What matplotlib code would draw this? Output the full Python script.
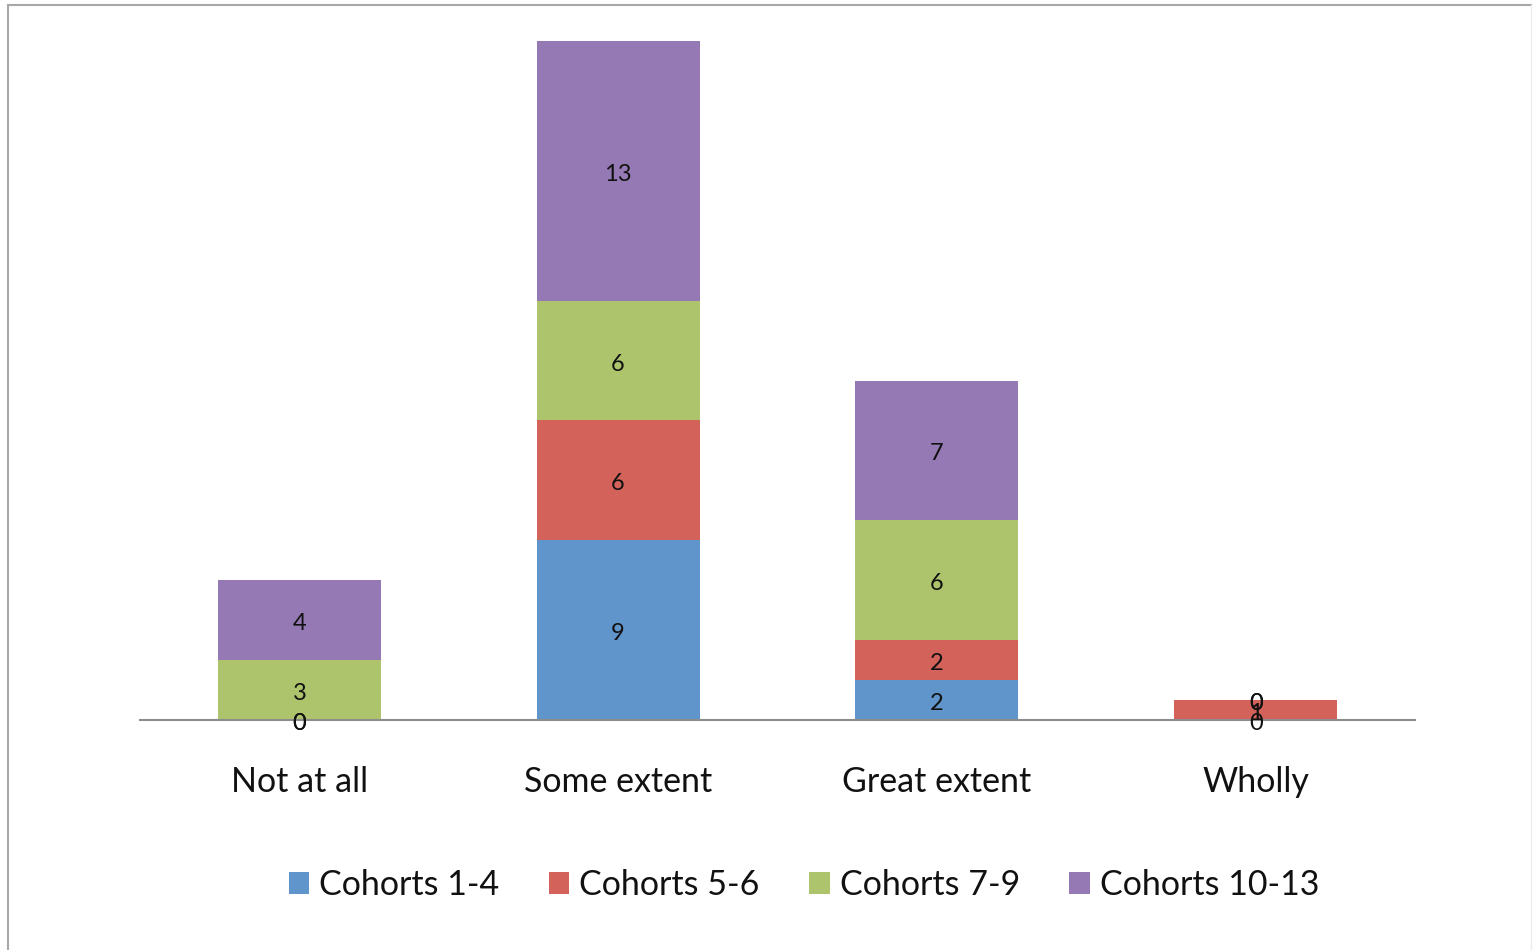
import matplotlib.pyplot as plt
from matplotlib.lines import Line2D
from matplotlib.patches import Patch
import numpy as np

categories = ["Not at all", "Some extent", "Great extent", "Wholly"]
series_names = ["Cohorts 1-4", "Cohorts 5-6", "Cohorts 7-9", "Cohorts 10-13"]
cohorts_1_4 = [0, 9, 2, 0]
cohorts_5_6 = [0, 6, 2, 1]
cohorts_7_9 = [3, 6, 6, 0]
cohorts_10_13 = [4, 13, 7, 0]
colors = ["#5f95cb", "#d2625a", "#aec46c", "#9579b4"]

plt.rcParams['font.family'] = ['Lato', 'DejaVu Sans']

W, H = 1534, 950
fig = plt.figure(figsize=(W / 100, H / 100), dpi=100)
fig.patch.set_facecolor("white")

# chart-area frame (top and left edges visible)
fig.add_artist(Line2D([8 / W, 8 / W], [0, 1 - 5 / H], transform=fig.transFigure,
                      color="#a8a8a8", lw=1.5))
fig.add_artist(Line2D([8 / W, 1531 / W], [1 - 5 / H, 1 - 5 / H], transform=fig.transFigure,
                      color="#a8a8a8", lw=1.5))
fig.add_artist(Line2D([1531 / W, 1531 / W], [0, 1 - 5 / H], transform=fig.transFigure,
                      color="#ececec", lw=1.0))

left, right, top, base = 140, 1415, 41, 720
ax = fig.add_axes([left / W, 1 - base / H, (right - left) / W, (base - top) / H])

series = [cohorts_1_4, cohorts_5_6, cohorts_7_9, cohorts_10_13]
x = np.arange(len(categories))
bottom = np.zeros(len(categories))
for vals, col, name in zip(series, colors, series_names):
    vals = np.array(vals, dtype=float)
    ax.bar(x, vals, width=0.512, bottom=bottom, color=col, label=name, zorder=2)
    for xi, b, v in zip(x, bottom, vals):
        ax.annotate(f"{int(v)}", xy=(xi, b + v / 2), xytext=(0, -2.5),
                    textcoords="offset points", ha="center", va="center",
                    fontsize=17, color="#111111", zorder=4)
    bottom += vals

ax.set_xlim(-0.5, 3.5)
ax.set_ylim(0, 34)
for s in ["top", "right", "left"]:
    ax.spines[s].set_visible(False)
ax.spines["bottom"].set_color("#8c8c8c")
ax.spines["bottom"].set_linewidth(1.5)
ax.spines["bottom"].set_zorder(3)
ax.set_yticks([])
ax.set_xticks(x)
ax.set_xticklabels(categories, fontsize=24.5, color="#111111")
ax.tick_params(axis="x", length=0, pad=33)

handles = [Patch(facecolor=c, edgecolor="none") for c in colors]
fig.legend(handles, series_names, loc="center", bbox_to_anchor=(804 / W, 1 - 885 / H),
           ncol=4, frameon=False, fontsize=24.5, handlelength=0.6, handleheight=0.6,
           handletextpad=0.3, columnspacing=1.45, labelcolor="#111111")

fig.savefig("out.png", dpi=100, facecolor="white")
